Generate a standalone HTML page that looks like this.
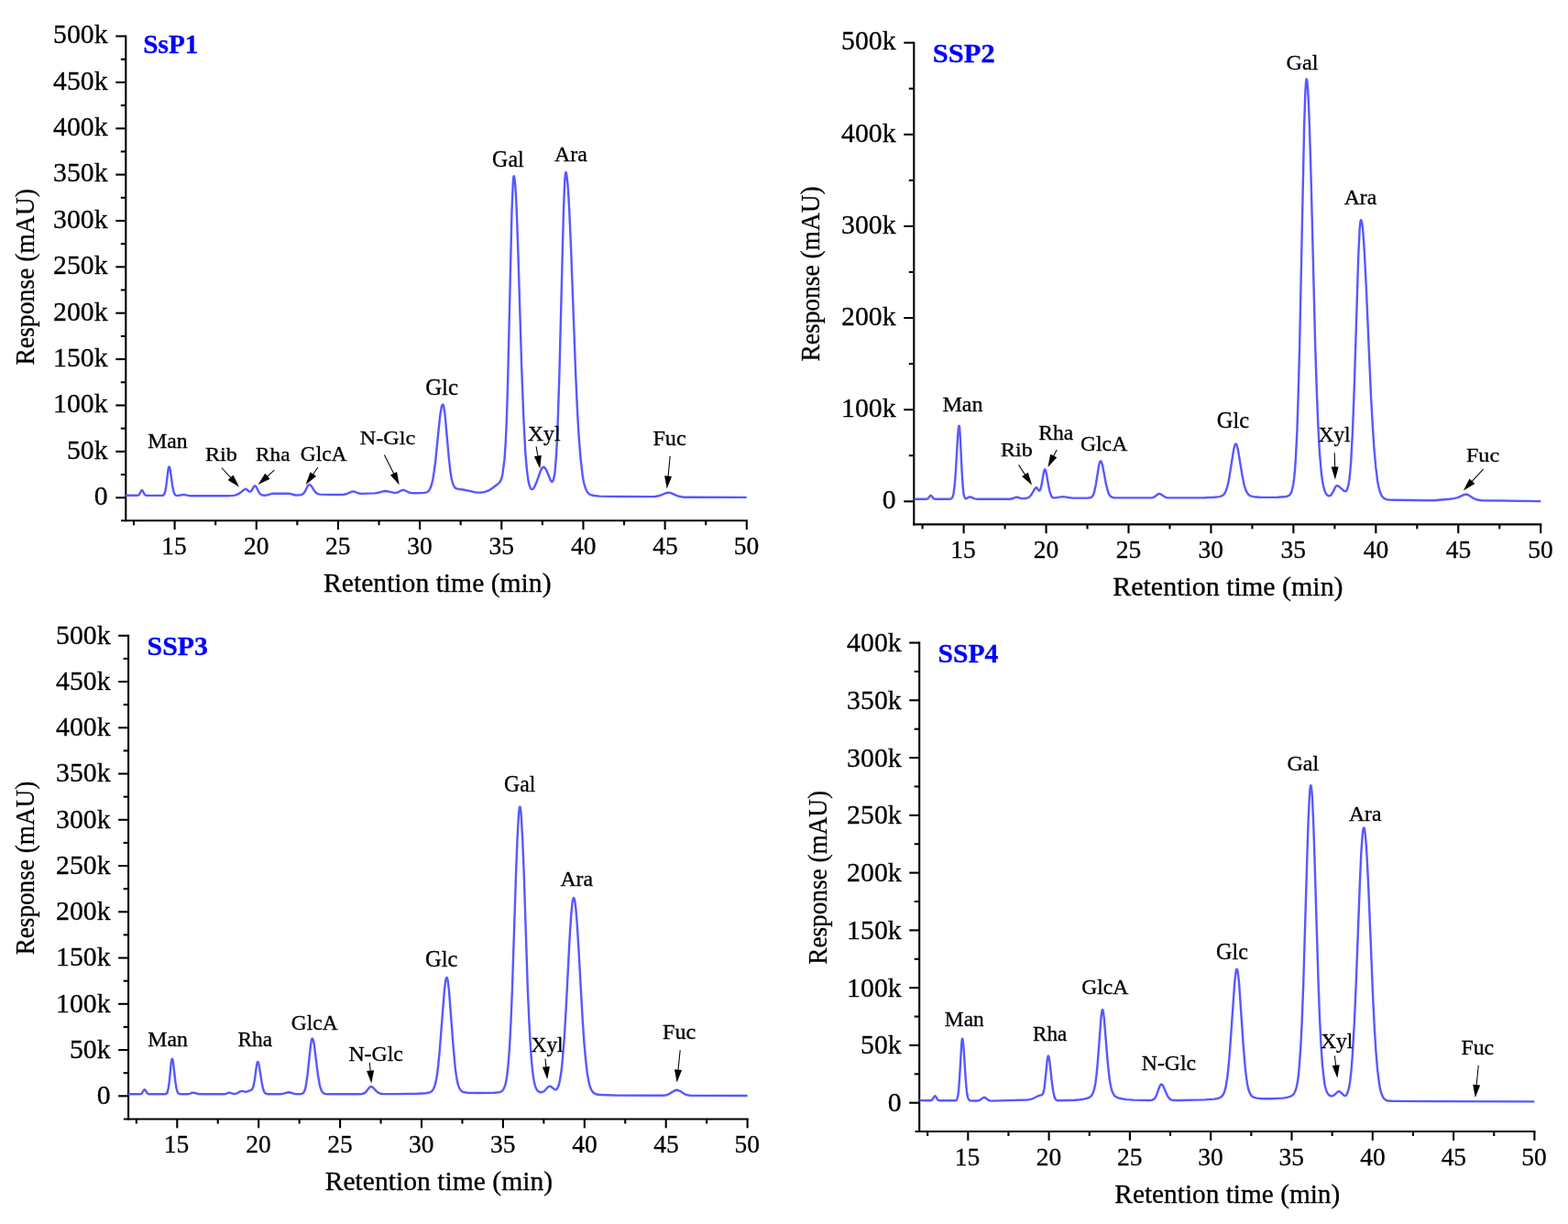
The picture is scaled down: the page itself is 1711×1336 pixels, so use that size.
<!DOCTYPE html><html><head><meta charset="utf-8"><title>Chromatograms</title><style>html,body{margin:0;padding:0;background:#fff;overflow:hidden}svg{display:block}</style></head><body><svg width="1711" height="1336" viewBox="0 0 1711 1336" font-family="'Liberation Serif','Times New Roman',serif"><rect width="1711" height="1336" fill="#fff"/><g><line x1="137.3" y1="38.45" x2="137.3" y2="569.35" stroke="#000" stroke-width="2.1"/><line x1="132.0" y1="568.3" x2="815.84" y2="568.3" stroke="#000" stroke-width="2.1"/><line x1="126.30" y1="543.20" x2="137.3" y2="543.20" stroke="#000" stroke-width="2.1"/><text x="102.70" y="551.00" font-size="29.8" stroke="#000" stroke-width="0.3" textLength="14.90" lengthAdjust="spacingAndGlyphs">0</text><line x1="131.80" y1="518.02" x2="137.3" y2="518.02" stroke="#000" stroke-width="2.1"/><line x1="126.30" y1="492.83" x2="137.3" y2="492.83" stroke="#000" stroke-width="2.1"/><text x="72.90" y="500.63" font-size="29.8" stroke="#000" stroke-width="0.3" textLength="44.70" lengthAdjust="spacingAndGlyphs">50k</text><line x1="131.80" y1="467.65" x2="137.3" y2="467.65" stroke="#000" stroke-width="2.1"/><line x1="126.30" y1="442.46" x2="137.3" y2="442.46" stroke="#000" stroke-width="2.1"/><text x="58.00" y="450.26" font-size="29.8" stroke="#000" stroke-width="0.3" textLength="59.60" lengthAdjust="spacingAndGlyphs">100k</text><line x1="131.80" y1="417.28" x2="137.3" y2="417.28" stroke="#000" stroke-width="2.1"/><line x1="126.30" y1="392.09" x2="137.3" y2="392.09" stroke="#000" stroke-width="2.1"/><text x="58.00" y="399.89" font-size="29.8" stroke="#000" stroke-width="0.3" textLength="59.60" lengthAdjust="spacingAndGlyphs">150k</text><line x1="131.80" y1="366.91" x2="137.3" y2="366.91" stroke="#000" stroke-width="2.1"/><line x1="126.30" y1="341.72" x2="137.3" y2="341.72" stroke="#000" stroke-width="2.1"/><text x="58.00" y="349.52" font-size="29.8" stroke="#000" stroke-width="0.3" textLength="59.60" lengthAdjust="spacingAndGlyphs">200k</text><line x1="131.80" y1="316.54" x2="137.3" y2="316.54" stroke="#000" stroke-width="2.1"/><line x1="126.30" y1="291.35" x2="137.3" y2="291.35" stroke="#000" stroke-width="2.1"/><text x="58.00" y="299.15" font-size="29.8" stroke="#000" stroke-width="0.3" textLength="59.60" lengthAdjust="spacingAndGlyphs">250k</text><line x1="131.80" y1="266.17" x2="137.3" y2="266.17" stroke="#000" stroke-width="2.1"/><line x1="126.30" y1="240.98" x2="137.3" y2="240.98" stroke="#000" stroke-width="2.1"/><text x="58.00" y="248.78" font-size="29.8" stroke="#000" stroke-width="0.3" textLength="59.60" lengthAdjust="spacingAndGlyphs">300k</text><line x1="131.80" y1="215.80" x2="137.3" y2="215.80" stroke="#000" stroke-width="2.1"/><line x1="126.30" y1="190.61" x2="137.3" y2="190.61" stroke="#000" stroke-width="2.1"/><text x="58.00" y="198.41" font-size="29.8" stroke="#000" stroke-width="0.3" textLength="59.60" lengthAdjust="spacingAndGlyphs">350k</text><line x1="131.80" y1="165.43" x2="137.3" y2="165.43" stroke="#000" stroke-width="2.1"/><line x1="126.30" y1="140.24" x2="137.3" y2="140.24" stroke="#000" stroke-width="2.1"/><text x="58.00" y="148.04" font-size="29.8" stroke="#000" stroke-width="0.3" textLength="59.60" lengthAdjust="spacingAndGlyphs">400k</text><line x1="131.80" y1="115.06" x2="137.3" y2="115.06" stroke="#000" stroke-width="2.1"/><line x1="126.30" y1="89.87" x2="137.3" y2="89.87" stroke="#000" stroke-width="2.1"/><text x="58.00" y="97.67" font-size="29.8" stroke="#000" stroke-width="0.3" textLength="59.60" lengthAdjust="spacingAndGlyphs">450k</text><line x1="131.80" y1="64.69" x2="137.3" y2="64.69" stroke="#000" stroke-width="2.1"/><line x1="126.30" y1="39.50" x2="137.3" y2="39.50" stroke="#000" stroke-width="2.1"/><text x="58.00" y="47.30" font-size="29.8" stroke="#000" stroke-width="0.3" textLength="59.60" lengthAdjust="spacingAndGlyphs">500k</text><line x1="146.01" y1="568.3" x2="146.01" y2="573.30" stroke="#000" stroke-width="2.1"/><line x1="190.60" y1="568.3" x2="190.60" y2="578.10" stroke="#000" stroke-width="2.1"/><text x="176.19" y="605.10" font-size="27.2" stroke="#000" stroke-width="0.3" textLength="27.47" lengthAdjust="spacingAndGlyphs">15</text><line x1="235.19" y1="568.3" x2="235.19" y2="573.30" stroke="#000" stroke-width="2.1"/><line x1="279.77" y1="568.3" x2="279.77" y2="578.10" stroke="#000" stroke-width="2.1"/><text x="265.95" y="605.10" font-size="27.2" stroke="#000" stroke-width="0.3" textLength="27.47" lengthAdjust="spacingAndGlyphs">20</text><line x1="324.36" y1="568.3" x2="324.36" y2="573.30" stroke="#000" stroke-width="2.1"/><line x1="368.94" y1="568.3" x2="368.94" y2="578.10" stroke="#000" stroke-width="2.1"/><text x="355.14" y="605.10" font-size="27.2" stroke="#000" stroke-width="0.3" textLength="27.47" lengthAdjust="spacingAndGlyphs">25</text><line x1="413.52" y1="568.3" x2="413.52" y2="573.30" stroke="#000" stroke-width="2.1"/><line x1="458.11" y1="568.3" x2="458.11" y2="578.10" stroke="#000" stroke-width="2.1"/><text x="444.24" y="605.10" font-size="27.2" stroke="#000" stroke-width="0.3" textLength="27.47" lengthAdjust="spacingAndGlyphs">30</text><line x1="502.69" y1="568.3" x2="502.69" y2="573.30" stroke="#000" stroke-width="2.1"/><line x1="547.28" y1="568.3" x2="547.28" y2="578.10" stroke="#000" stroke-width="2.1"/><text x="533.42" y="605.10" font-size="27.2" stroke="#000" stroke-width="0.3" textLength="27.47" lengthAdjust="spacingAndGlyphs">35</text><line x1="591.87" y1="568.3" x2="591.87" y2="573.30" stroke="#000" stroke-width="2.1"/><line x1="636.45" y1="568.3" x2="636.45" y2="578.10" stroke="#000" stroke-width="2.1"/><text x="622.97" y="605.10" font-size="27.2" stroke="#000" stroke-width="0.3" textLength="27.47" lengthAdjust="spacingAndGlyphs">40</text><line x1="681.03" y1="568.3" x2="681.03" y2="573.30" stroke="#000" stroke-width="2.1"/><line x1="725.62" y1="568.3" x2="725.62" y2="578.10" stroke="#000" stroke-width="2.1"/><text x="712.15" y="605.10" font-size="27.2" stroke="#000" stroke-width="0.3" textLength="27.47" lengthAdjust="spacingAndGlyphs">45</text><line x1="770.21" y1="568.3" x2="770.21" y2="573.30" stroke="#000" stroke-width="2.1"/><line x1="814.79" y1="568.3" x2="814.79" y2="578.10" stroke="#000" stroke-width="2.1"/><text x="800.78" y="605.10" font-size="27.2" stroke="#000" stroke-width="0.3" textLength="27.47" lengthAdjust="spacingAndGlyphs">50</text><path d="M137.1,540.7 149.0,540.7 150.7,540.6 151.5,540.2 152.1,539.6 154.1,535.7 154.6,535.2 154.9,535.0 155.3,535.2 155.7,535.7 157.8,539.6 158.5,540.3 159.3,540.7 161.1,540.8 175.9,540.9 177.4,540.8 178.3,540.5 179.0,539.7 179.5,538.8 180.5,535.3 181.4,529.7 183.5,512.8 184.0,510.2 184.3,509.6 184.5,509.4 185.2,510.5 185.8,513.3 188.1,529.9 189.4,536.3 190.1,538.4 190.9,539.8 191.8,540.6 193.1,540.9 195.5,540.8 200.3,539.9 201.7,540.1 205.4,540.9 208.4,541.2 248.6,541.2 254.6,540.9 257.3,540.4 259.7,539.4 261.8,538.1 266.0,534.8 268.0,533.8 268.5,533.8 269.1,534.1 271.7,536.4 272.5,536.6 273.3,536.5 274.1,535.9 274.8,535.1 277.2,530.9 278.1,530.3 278.8,530.6 279.6,531.5 282.3,536.8 283.4,538.6 284.8,539.8 286.4,540.5 290.5,540.7 297.6,538.7 315.4,538.7 322.6,540.5 327.0,540.3 329.6,539.8 331.4,538.5 332.9,536.3 335.9,530.3 336.7,529.3 337.6,529.0 338.5,529.3 339.5,530.2 343.1,535.8 344.9,537.9 346.8,539.1 349.3,539.6 368.9,540.0 375.2,539.7 378.6,539.0 383.2,536.8 385.1,536.4 386.9,536.7 391.3,538.5 394.4,538.9 409.2,538.4 412.5,537.8 418.1,536.3 420.4,536.0 423.2,536.3 429.2,537.7 431.7,537.9 434.0,537.4 438.1,535.3 439.9,534.8 441.7,535.2 446.1,537.5 448.7,538.1 452.0,538.2 460.0,538.1 462.8,537.9 464.8,537.6 466.2,537.0 467.4,536.1 468.4,535.0 469.3,533.5 470.9,529.3 472.4,522.8 473.7,514.7 475.1,504.1 479.1,464.1 480.4,452.5 481.8,444.2 482.5,442.1 483.2,441.5 483.7,442.1 484.3,444.3 485.6,452.9 489.7,498.6 491.5,515.2 492.5,521.3 493.5,525.8 494.6,529.1 495.7,531.3 497.2,532.8 499.1,533.6 505.7,534.5 517.9,537.2 521.6,537.6 525.2,537.6 529.3,536.9 533.2,535.4 537.0,533.0 543.3,528.3 545.1,526.5 546.4,524.5 547.5,521.5 548.4,517.7 550.5,501.4 551.8,482.5 552.9,457.3 554.1,418.8 558.5,230.3 559.7,201.2 560.2,194.4 560.5,192.7 560.7,192.2 561.1,192.8 561.5,194.6 562.3,202.5 563.1,215.6 564.0,235.5 565.5,279.1 569.2,401.3 571.4,457.6 573.3,493.7 574.4,507.5 575.5,517.6 576.5,524.8 577.6,529.5 578.8,532.7 579.5,533.6 580.2,534.0 580.9,534.0 581.7,533.5 582.5,532.6 583.4,531.1 585.3,526.8 589.9,513.9 591.4,511.1 592.1,510.3 592.8,509.9 593.4,509.8 594.0,510.1 595.3,511.6 596.8,514.4 600.7,524.1 601.9,525.7 602.4,525.9 602.8,525.7 603.6,524.5 604.4,521.7 605.2,517.6 605.9,511.5 607.1,495.2 608.3,472.3 610.4,408.0 615.0,228.6 616.2,198.3 616.8,190.5 617.1,188.8 617.5,188.1 617.9,188.9 618.3,190.8 619.3,199.1 620.3,212.6 621.3,230.6 623.1,272.1 628.2,409.2 629.9,446.1 631.6,475.7 633.5,500.0 635.5,517.2 636.5,523.8 637.7,529.0 638.9,533.1 640.3,536.1 641.2,537.4 642.2,538.6 643.4,539.5 644.7,540.2 648.1,541.0 654.3,541.6 678.2,542.0 713.3,542.1 716.1,541.8 718.6,541.3 721.0,540.5 726.3,538.3 727.9,537.9 729.5,537.8 731.0,537.9 732.7,538.4 738.3,540.9 740.9,541.8 743.5,542.3 746.8,542.7 753.1,542.8 814.8,542.9" fill="none" stroke="#5858ff" stroke-width="2.4" stroke-linejoin="round"/><text x="156.34" y="57.50" font-size="29.2" font-weight="bold" fill="#0000ff" stroke="#0000ff" stroke-width="0.3" textLength="60.17" lengthAdjust="spacingAndGlyphs">SsP1</text><text transform="translate(37.20,397.80) rotate(-90)" x="-0.80" y="0" font-size="30.4" stroke="#000" stroke-width="0.3" textLength="192.51" lengthAdjust="spacingAndGlyphs">Response (mAU)</text><text x="353.05" y="645.70" font-size="28.5" fill="#000" stroke="#000" stroke-width="0.3" textLength="248.46" lengthAdjust="spacingAndGlyphs">Retention time (min)</text><text x="161.22" y="489.15" font-size="22.68" fill="#000" stroke="#000" stroke-width="0.3" textLength="43.44" lengthAdjust="spacingAndGlyphs">Man</text><text x="223.90" y="503.05" font-size="21.31" fill="#000" stroke="#000" stroke-width="0.3" textLength="35.13" lengthAdjust="spacingAndGlyphs">Rib</text><text x="279.13" y="502.75" font-size="20.85" fill="#000" stroke="#000" stroke-width="0.3" textLength="37.39" lengthAdjust="spacingAndGlyphs">Rha</text><text x="327.74" y="503.23" font-size="22.21" fill="#000" stroke="#000" stroke-width="0.3" textLength="50.83" lengthAdjust="spacingAndGlyphs">GlcA</text><text x="392.80" y="485.05" font-size="21.31" fill="#000" stroke="#000" stroke-width="0.3" textLength="60.44" lengthAdjust="spacingAndGlyphs">N-Glc</text><text x="464.18" y="431.23" font-size="24.77" fill="#000" stroke="#000" stroke-width="0.3" textLength="35.88" lengthAdjust="spacingAndGlyphs">Glc</text><text x="537.12" y="181.53" font-size="24.92" fill="#000" stroke="#000" stroke-width="0.3" textLength="34.56" lengthAdjust="spacingAndGlyphs">Gal</text><text x="605.07" y="176.25" font-size="23.51" fill="#000" stroke="#000" stroke-width="0.3" textLength="35.66" lengthAdjust="spacingAndGlyphs">Ara</text><text x="575.98" y="481.15" font-size="22.91" fill="#000" stroke="#000" stroke-width="0.3" textLength="35.60" lengthAdjust="spacingAndGlyphs">Xyl</text><text x="712.40" y="486.45" font-size="22.98" fill="#000" stroke="#000" stroke-width="0.3" textLength="36.24" lengthAdjust="spacingAndGlyphs">Fuc</text><line x1="241.8" y1="510.5" x2="252.9" y2="522.6" stroke="#000" stroke-width="1.05"/><polygon points="261.0,531.5 248.6,523.9 254.5,518.5" fill="#000"/><line x1="299.4" y1="513.2" x2="290.5" y2="521.1" stroke="#000" stroke-width="1.05"/><polygon points="281.5,529.0 289.3,516.7 294.6,522.7" fill="#000"/><line x1="347.0" y1="510.0" x2="340.6" y2="519.2" stroke="#000" stroke-width="1.05"/><polygon points="333.7,529.0 338.5,515.2 345.0,519.8" fill="#000"/><line x1="419.4" y1="496.4" x2="430.4" y2="518.5" stroke="#000" stroke-width="1.05"/><polygon points="435.7,529.2 425.9,518.4 433.1,514.9" fill="#000"/><line x1="585.1" y1="487.4" x2="587.2" y2="499.6" stroke="#000" stroke-width="1.05"/><polygon points="589.2,511.4 582.9,498.3 590.8,496.9" fill="#000"/><line x1="731.2" y1="497.9" x2="728.9" y2="521.7" stroke="#000" stroke-width="1.05"/><polygon points="727.7,533.6 725.1,519.3 733.0,520.1" fill="#000"/></g>
<g><line x1="997.3" y1="45.65" x2="997.3" y2="573.45" stroke="#000" stroke-width="2.1"/><line x1="996.3" y1="572.4" x2="1682.30" y2="572.4" stroke="#000" stroke-width="2.1"/><line x1="986.30" y1="547.30" x2="997.3" y2="547.30" stroke="#000" stroke-width="2.1"/><text x="962.70" y="555.10" font-size="29.8" stroke="#000" stroke-width="0.3" textLength="14.90" lengthAdjust="spacingAndGlyphs">0</text><line x1="991.80" y1="497.23" x2="997.3" y2="497.23" stroke="#000" stroke-width="2.1"/><line x1="986.30" y1="447.17" x2="997.3" y2="447.17" stroke="#000" stroke-width="2.1"/><text x="918.00" y="454.97" font-size="29.8" stroke="#000" stroke-width="0.3" textLength="59.60" lengthAdjust="spacingAndGlyphs">100k</text><line x1="991.80" y1="397.10" x2="997.3" y2="397.10" stroke="#000" stroke-width="2.1"/><line x1="986.30" y1="347.04" x2="997.3" y2="347.04" stroke="#000" stroke-width="2.1"/><text x="918.00" y="354.84" font-size="29.8" stroke="#000" stroke-width="0.3" textLength="59.60" lengthAdjust="spacingAndGlyphs">200k</text><line x1="991.80" y1="296.97" x2="997.3" y2="296.97" stroke="#000" stroke-width="2.1"/><line x1="986.30" y1="246.91" x2="997.3" y2="246.91" stroke="#000" stroke-width="2.1"/><text x="918.00" y="254.71" font-size="29.8" stroke="#000" stroke-width="0.3" textLength="59.60" lengthAdjust="spacingAndGlyphs">300k</text><line x1="991.80" y1="196.84" x2="997.3" y2="196.84" stroke="#000" stroke-width="2.1"/><line x1="986.30" y1="146.78" x2="997.3" y2="146.78" stroke="#000" stroke-width="2.1"/><text x="918.00" y="154.58" font-size="29.8" stroke="#000" stroke-width="0.3" textLength="59.60" lengthAdjust="spacingAndGlyphs">400k</text><line x1="991.80" y1="96.71" x2="997.3" y2="96.71" stroke="#000" stroke-width="2.1"/><line x1="986.30" y1="46.65" x2="997.3" y2="46.65" stroke="#000" stroke-width="2.1"/><text x="918.00" y="54.45" font-size="29.8" stroke="#000" stroke-width="0.3" textLength="59.60" lengthAdjust="spacingAndGlyphs">500k</text><line x1="1006.62" y1="572.4" x2="1006.62" y2="577.40" stroke="#000" stroke-width="2.1"/><line x1="1051.60" y1="572.4" x2="1051.60" y2="582.20" stroke="#000" stroke-width="2.1"/><text x="1037.19" y="608.60" font-size="27.2" stroke="#000" stroke-width="0.3" textLength="27.47" lengthAdjust="spacingAndGlyphs">15</text><line x1="1096.57" y1="572.4" x2="1096.57" y2="577.40" stroke="#000" stroke-width="2.1"/><line x1="1141.55" y1="572.4" x2="1141.55" y2="582.20" stroke="#000" stroke-width="2.1"/><text x="1127.73" y="608.60" font-size="27.2" stroke="#000" stroke-width="0.3" textLength="27.47" lengthAdjust="spacingAndGlyphs">20</text><line x1="1186.52" y1="572.4" x2="1186.52" y2="577.40" stroke="#000" stroke-width="2.1"/><line x1="1231.50" y1="572.4" x2="1231.50" y2="582.20" stroke="#000" stroke-width="2.1"/><text x="1217.70" y="608.60" font-size="27.2" stroke="#000" stroke-width="0.3" textLength="27.47" lengthAdjust="spacingAndGlyphs">25</text><line x1="1276.47" y1="572.4" x2="1276.47" y2="577.40" stroke="#000" stroke-width="2.1"/><line x1="1321.45" y1="572.4" x2="1321.45" y2="582.20" stroke="#000" stroke-width="2.1"/><text x="1307.58" y="608.60" font-size="27.2" stroke="#000" stroke-width="0.3" textLength="27.47" lengthAdjust="spacingAndGlyphs">30</text><line x1="1366.42" y1="572.4" x2="1366.42" y2="577.40" stroke="#000" stroke-width="2.1"/><line x1="1411.40" y1="572.4" x2="1411.40" y2="582.20" stroke="#000" stroke-width="2.1"/><text x="1397.54" y="608.60" font-size="27.2" stroke="#000" stroke-width="0.3" textLength="27.47" lengthAdjust="spacingAndGlyphs">35</text><line x1="1456.38" y1="572.4" x2="1456.38" y2="577.40" stroke="#000" stroke-width="2.1"/><line x1="1501.35" y1="572.4" x2="1501.35" y2="582.20" stroke="#000" stroke-width="2.1"/><text x="1487.87" y="608.60" font-size="27.2" stroke="#000" stroke-width="0.3" textLength="27.47" lengthAdjust="spacingAndGlyphs">40</text><line x1="1546.32" y1="572.4" x2="1546.32" y2="577.40" stroke="#000" stroke-width="2.1"/><line x1="1591.30" y1="572.4" x2="1591.30" y2="582.20" stroke="#000" stroke-width="2.1"/><text x="1577.83" y="608.60" font-size="27.2" stroke="#000" stroke-width="0.3" textLength="27.47" lengthAdjust="spacingAndGlyphs">45</text><line x1="1636.27" y1="572.4" x2="1636.27" y2="577.40" stroke="#000" stroke-width="2.1"/><line x1="1681.25" y1="572.4" x2="1681.25" y2="582.20" stroke="#000" stroke-width="2.1"/><text x="1667.24" y="608.60" font-size="27.2" stroke="#000" stroke-width="0.3" textLength="27.47" lengthAdjust="spacingAndGlyphs">50</text><path d="M997.6,544.8 1011.4,544.7 1012.7,544.0 1014.8,541.3 1015.6,540.8 1016.4,541.3 1018.6,544.0 1019.3,544.5 1020.3,544.7 1036.4,544.7 1038.0,544.3 1039.1,543.2 1039.9,541.3 1040.5,538.7 1041.8,528.9 1042.9,514.5 1045.2,474.8 1045.9,467.1 1046.3,465.2 1046.6,464.7 1046.8,465.2 1047.1,466.9 1047.6,473.5 1049.7,516.3 1050.8,532.5 1051.4,538.0 1052.0,541.4 1052.8,543.3 1053.2,543.9 1053.8,544.2 1054.8,544.0 1057.2,542.6 1058.3,542.3 1059.6,542.6 1063.4,544.4 1066.9,544.8 1101.9,544.7 1104.6,544.3 1107.9,542.9 1109.3,542.6 1110.4,542.7 1113.4,543.8 1115.3,544.1 1118.9,544.0 1121.5,543.4 1123.1,542.5 1124.6,541.0 1126.0,539.0 1128.9,533.9 1130.4,532.2 1130.8,532.1 1131.4,532.4 1133.1,534.9 1133.7,535.5 1134.4,535.5 1135.0,534.9 1135.7,533.0 1136.4,530.1 1139.0,515.0 1139.6,513.1 1140.1,512.3 1140.5,512.5 1140.9,513.4 1141.7,516.2 1144.5,532.1 1145.8,537.7 1147.1,541.2 1147.8,542.3 1148.7,543.0 1149.8,543.4 1151.4,543.4 1157.5,542.4 1159.7,542.2 1161.9,542.4 1167.3,543.3 1170.6,543.6 1186.3,543.6 1189.7,543.3 1191.1,542.6 1192.2,541.4 1193.2,539.6 1194.1,536.9 1195.8,529.0 1199.1,508.0 1200.0,504.5 1200.5,503.6 1200.9,503.3 1201.5,503.6 1202.0,504.5 1203.1,508.0 1207.0,528.7 1208.9,536.3 1210.0,539.1 1211.1,540.9 1212.3,542.2 1214.0,543.0 1215.8,543.3 1218.8,543.4 1256.0,543.4 1257.7,543.1 1259.1,542.6 1260.5,541.8 1263.3,539.5 1265.0,539.0 1265.9,539.1 1266.8,539.5 1270.1,541.8 1271.6,542.7 1273.3,543.2 1275.6,543.4 1314.4,543.2 1324.9,542.8 1330.7,542.1 1333.5,541.2 1334.6,540.5 1335.6,539.5 1337.3,536.8 1338.8,532.7 1340.1,527.9 1341.4,521.1 1346.2,490.7 1347.4,486.0 1347.9,484.9 1348.4,484.5 1349.0,484.8 1349.6,486.0 1350.9,490.8 1355.5,518.7 1357.6,529.1 1358.7,532.9 1359.9,536.0 1361.1,538.3 1362.5,539.9 1363.5,540.8 1364.8,541.4 1368.1,542.2 1374.4,542.7 1383.5,542.9 1394.2,542.8 1401.5,542.3 1405.2,541.5 1406.5,540.8 1407.4,540.0 1408.9,537.8 1410.1,534.1 1411.2,528.9 1412.1,522.4 1413.0,513.1 1413.8,501.8 1415.4,470.8 1416.7,430.9 1418.1,378.7 1423.1,139.0 1424.4,99.4 1425.1,89.7 1425.4,87.0 1425.7,86.3 1426.1,86.9 1426.4,88.9 1427.2,98.2 1428.0,113.8 1428.9,137.6 1430.6,193.5 1435.1,374.4 1436.8,425.9 1438.3,463.9 1440.0,494.7 1441.9,516.6 1442.9,524.2 1444.0,530.2 1445.2,535.0 1446.6,538.1 1447.7,539.8 1449.1,541.0 1450.4,541.3 1451.8,540.9 1452.8,539.9 1453.8,538.4 1457.2,531.4 1457.9,530.5 1458.6,530.1 1460.0,530.4 1461.5,531.3 1466.7,535.9 1467.7,536.2 1468.6,536.1 1469.7,534.8 1470.7,532.3 1471.6,528.4 1472.4,523.2 1473.3,514.9 1474.2,503.7 1475.9,472.4 1477.8,422.2 1482.3,278.1 1483.7,249.4 1484.4,242.1 1484.8,240.5 1485.1,240.1 1485.5,240.7 1486.0,242.2 1487.0,249.1 1487.9,260.4 1488.9,275.7 1490.8,313.2 1496.0,432.3 1497.8,464.4 1499.5,490.1 1501.3,510.2 1503.2,525.4 1504.3,531.1 1505.4,535.4 1506.6,538.8 1507.9,541.4 1509.4,543.2 1511.0,544.4 1513.0,545.1 1515.6,545.5 1522.6,545.7 1564.3,546.2 1581.4,544.7 1586.2,544.1 1590.8,543.1 1597.1,540.1 1598.5,539.7 1599.8,539.6 1601.1,539.8 1602.5,540.4 1607.8,543.8 1610.3,545.0 1613.2,545.8 1617.2,546.3 1681.3,547.1" fill="none" stroke="#5858ff" stroke-width="2.4" stroke-linejoin="round"/><text x="1017.88" y="67.60" font-size="29.2" font-weight="bold" fill="#0000ff" stroke="#0000ff" stroke-width="0.3" textLength="67.84" lengthAdjust="spacingAndGlyphs">SSP2</text><text transform="translate(893.60,393.70) rotate(-90)" x="-0.79" y="0" font-size="30.4" stroke="#000" stroke-width="0.3" textLength="191.09" lengthAdjust="spacingAndGlyphs">Response (mAU)</text><text x="1214.24" y="649.80" font-size="28.5" fill="#000" stroke="#000" stroke-width="0.3" textLength="251.38" lengthAdjust="spacingAndGlyphs">Retention time (min)</text><text x="1028.40" y="449.05" font-size="22.22" fill="#000" stroke="#000" stroke-width="0.3" textLength="44.26" lengthAdjust="spacingAndGlyphs">Man</text><text x="1091.90" y="498.05" font-size="21.0" fill="#000" stroke="#000" stroke-width="0.3" textLength="34.92" lengthAdjust="spacingAndGlyphs">Rib</text><text x="1133.32" y="480.35" font-size="22.68" fill="#000" stroke="#000" stroke-width="0.3" textLength="37.90" lengthAdjust="spacingAndGlyphs">Rha</text><text x="1178.93" y="491.63" font-size="23.72" fill="#000" stroke="#000" stroke-width="0.3" textLength="51.35" lengthAdjust="spacingAndGlyphs">GlcA</text><text x="1327.80" y="466.63" font-size="24.62" fill="#000" stroke="#000" stroke-width="0.3" textLength="35.36" lengthAdjust="spacingAndGlyphs">Glc</text><text x="1403.61" y="75.93" font-size="24.02" fill="#000" stroke="#000" stroke-width="0.3" textLength="34.98" lengthAdjust="spacingAndGlyphs">Gal</text><text x="1466.67" y="222.95" font-size="22.9" fill="#000" stroke="#000" stroke-width="0.3" textLength="35.56" lengthAdjust="spacingAndGlyphs">Ara</text><text x="1438.79" y="481.95" font-size="22.68" fill="#000" stroke="#000" stroke-width="0.3" textLength="34.77" lengthAdjust="spacingAndGlyphs">Xyl</text><text x="1599.90" y="503.95" font-size="21.92" fill="#000" stroke="#000" stroke-width="0.3" textLength="36.24" lengthAdjust="spacingAndGlyphs">Fuc</text><line x1="1111.6" y1="507.4" x2="1119.5" y2="519.6" stroke="#000" stroke-width="1.05"/><polygon points="1126.1,529.6 1115.1,520.1 1121.8,515.7" fill="#000"/><line x1="1153.1" y1="491.0" x2="1148.9" y2="499.3" stroke="#000" stroke-width="1.05"/><polygon points="1143.4,510.0 1146.2,495.7 1153.3,499.3" fill="#000"/><line x1="1456.2" y1="494.3" x2="1456.7" y2="511.5" stroke="#000" stroke-width="1.05"/><polygon points="1457.0,523.5 1452.6,509.6 1460.6,509.4" fill="#000"/><line x1="1618.6" y1="512.2" x2="1605.0" y2="526.7" stroke="#000" stroke-width="1.05"/><polygon points="1596.8,535.4 1603.5,522.5 1609.3,527.9" fill="#000"/></g>
<g><line x1="140.1" y1="692.75" x2="140.1" y2="1222.55" stroke="#000" stroke-width="2.1"/><line x1="134.9" y1="1221.5" x2="816.65" y2="1221.5" stroke="#000" stroke-width="2.1"/><line x1="129.10" y1="1196.30" x2="140.1" y2="1196.30" stroke="#000" stroke-width="2.1"/><text x="105.70" y="1205.00" font-size="29.8" stroke="#000" stroke-width="0.3" textLength="14.90" lengthAdjust="spacingAndGlyphs">0</text><line x1="134.60" y1="1171.17" x2="140.1" y2="1171.17" stroke="#000" stroke-width="2.1"/><line x1="129.10" y1="1146.05" x2="140.1" y2="1146.05" stroke="#000" stroke-width="2.1"/><text x="75.90" y="1154.75" font-size="29.8" stroke="#000" stroke-width="0.3" textLength="44.70" lengthAdjust="spacingAndGlyphs">50k</text><line x1="134.60" y1="1120.92" x2="140.1" y2="1120.92" stroke="#000" stroke-width="2.1"/><line x1="129.10" y1="1095.80" x2="140.1" y2="1095.80" stroke="#000" stroke-width="2.1"/><text x="61.00" y="1104.50" font-size="29.8" stroke="#000" stroke-width="0.3" textLength="59.60" lengthAdjust="spacingAndGlyphs">100k</text><line x1="134.60" y1="1070.67" x2="140.1" y2="1070.67" stroke="#000" stroke-width="2.1"/><line x1="129.10" y1="1045.55" x2="140.1" y2="1045.55" stroke="#000" stroke-width="2.1"/><text x="61.00" y="1054.25" font-size="29.8" stroke="#000" stroke-width="0.3" textLength="59.60" lengthAdjust="spacingAndGlyphs">150k</text><line x1="134.60" y1="1020.42" x2="140.1" y2="1020.42" stroke="#000" stroke-width="2.1"/><line x1="129.10" y1="995.30" x2="140.1" y2="995.30" stroke="#000" stroke-width="2.1"/><text x="61.00" y="1004.00" font-size="29.8" stroke="#000" stroke-width="0.3" textLength="59.60" lengthAdjust="spacingAndGlyphs">200k</text><line x1="134.60" y1="970.17" x2="140.1" y2="970.17" stroke="#000" stroke-width="2.1"/><line x1="129.10" y1="945.05" x2="140.1" y2="945.05" stroke="#000" stroke-width="2.1"/><text x="61.00" y="953.75" font-size="29.8" stroke="#000" stroke-width="0.3" textLength="59.60" lengthAdjust="spacingAndGlyphs">250k</text><line x1="134.60" y1="919.92" x2="140.1" y2="919.92" stroke="#000" stroke-width="2.1"/><line x1="129.10" y1="894.80" x2="140.1" y2="894.80" stroke="#000" stroke-width="2.1"/><text x="61.00" y="903.50" font-size="29.8" stroke="#000" stroke-width="0.3" textLength="59.60" lengthAdjust="spacingAndGlyphs">300k</text><line x1="134.60" y1="869.67" x2="140.1" y2="869.67" stroke="#000" stroke-width="2.1"/><line x1="129.10" y1="844.55" x2="140.1" y2="844.55" stroke="#000" stroke-width="2.1"/><text x="61.00" y="853.25" font-size="29.8" stroke="#000" stroke-width="0.3" textLength="59.60" lengthAdjust="spacingAndGlyphs">350k</text><line x1="134.60" y1="819.42" x2="140.1" y2="819.42" stroke="#000" stroke-width="2.1"/><line x1="129.10" y1="794.30" x2="140.1" y2="794.30" stroke="#000" stroke-width="2.1"/><text x="61.00" y="803.00" font-size="29.8" stroke="#000" stroke-width="0.3" textLength="59.60" lengthAdjust="spacingAndGlyphs">400k</text><line x1="134.60" y1="769.17" x2="140.1" y2="769.17" stroke="#000" stroke-width="2.1"/><line x1="129.10" y1="744.05" x2="140.1" y2="744.05" stroke="#000" stroke-width="2.1"/><text x="61.00" y="752.75" font-size="29.8" stroke="#000" stroke-width="0.3" textLength="59.60" lengthAdjust="spacingAndGlyphs">450k</text><line x1="134.60" y1="718.92" x2="140.1" y2="718.92" stroke="#000" stroke-width="2.1"/><line x1="129.10" y1="693.80" x2="140.1" y2="693.80" stroke="#000" stroke-width="2.1"/><text x="61.00" y="702.50" font-size="29.8" stroke="#000" stroke-width="0.3" textLength="59.60" lengthAdjust="spacingAndGlyphs">500k</text><line x1="148.85" y1="1221.5" x2="148.85" y2="1226.50" stroke="#000" stroke-width="2.1"/><line x1="193.30" y1="1221.5" x2="193.30" y2="1231.30" stroke="#000" stroke-width="2.1"/><text x="178.89" y="1257.70" font-size="27.2" stroke="#000" stroke-width="0.3" textLength="27.47" lengthAdjust="spacingAndGlyphs">15</text><line x1="237.75" y1="1221.5" x2="237.75" y2="1226.50" stroke="#000" stroke-width="2.1"/><line x1="282.20" y1="1221.5" x2="282.20" y2="1231.30" stroke="#000" stroke-width="2.1"/><text x="268.38" y="1257.70" font-size="27.2" stroke="#000" stroke-width="0.3" textLength="27.47" lengthAdjust="spacingAndGlyphs">20</text><line x1="326.65" y1="1221.5" x2="326.65" y2="1226.50" stroke="#000" stroke-width="2.1"/><line x1="371.10" y1="1221.5" x2="371.10" y2="1231.30" stroke="#000" stroke-width="2.1"/><text x="357.30" y="1257.70" font-size="27.2" stroke="#000" stroke-width="0.3" textLength="27.47" lengthAdjust="spacingAndGlyphs">25</text><line x1="415.55" y1="1221.5" x2="415.55" y2="1226.50" stroke="#000" stroke-width="2.1"/><line x1="460.00" y1="1221.5" x2="460.00" y2="1231.30" stroke="#000" stroke-width="2.1"/><text x="446.13" y="1257.70" font-size="27.2" stroke="#000" stroke-width="0.3" textLength="27.47" lengthAdjust="spacingAndGlyphs">30</text><line x1="504.45" y1="1221.5" x2="504.45" y2="1226.50" stroke="#000" stroke-width="2.1"/><line x1="548.90" y1="1221.5" x2="548.90" y2="1231.30" stroke="#000" stroke-width="2.1"/><text x="535.04" y="1257.70" font-size="27.2" stroke="#000" stroke-width="0.3" textLength="27.47" lengthAdjust="spacingAndGlyphs">35</text><line x1="593.35" y1="1221.5" x2="593.35" y2="1226.50" stroke="#000" stroke-width="2.1"/><line x1="637.80" y1="1221.5" x2="637.80" y2="1231.30" stroke="#000" stroke-width="2.1"/><text x="624.32" y="1257.70" font-size="27.2" stroke="#000" stroke-width="0.3" textLength="27.47" lengthAdjust="spacingAndGlyphs">40</text><line x1="682.25" y1="1221.5" x2="682.25" y2="1226.50" stroke="#000" stroke-width="2.1"/><line x1="726.70" y1="1221.5" x2="726.70" y2="1231.30" stroke="#000" stroke-width="2.1"/><text x="713.23" y="1257.70" font-size="27.2" stroke="#000" stroke-width="0.3" textLength="27.47" lengthAdjust="spacingAndGlyphs">45</text><line x1="771.15" y1="1221.5" x2="771.15" y2="1226.50" stroke="#000" stroke-width="2.1"/><line x1="815.60" y1="1221.5" x2="815.60" y2="1231.30" stroke="#000" stroke-width="2.1"/><text x="801.59" y="1257.70" font-size="27.2" stroke="#000" stroke-width="0.3" textLength="27.47" lengthAdjust="spacingAndGlyphs">50</text><path d="M140.0,1194.3 151.8,1194.3 153.6,1194.1 154.3,1193.8 154.9,1193.2 156.9,1189.8 157.7,1189.3 158.5,1189.8 160.7,1193.3 161.4,1193.9 162.2,1194.2 179.3,1194.3 180.8,1194.1 181.7,1193.7 182.4,1192.8 182.9,1191.5 183.9,1187.1 184.8,1180.2 186.7,1160.3 187.3,1156.9 187.8,1155.7 188.1,1155.9 188.4,1156.8 189.0,1160.1 191.4,1181.0 192.6,1188.2 193.3,1190.9 194.0,1192.6 194.8,1193.5 195.9,1194.1 198.3,1194.3 204.9,1194.2 206.8,1193.8 209.9,1192.7 211.1,1192.6 212.4,1192.8 216.0,1194.0 218.8,1194.2 244.5,1194.2 246.6,1193.9 249.1,1192.9 250.3,1192.7 251.3,1192.9 254.0,1193.7 256.1,1193.9 258.8,1193.3 262.1,1191.4 263.3,1190.9 264.4,1190.9 267.1,1191.6 268.4,1191.7 269.9,1191.4 273.2,1190.2 274.4,1189.6 275.3,1188.6 276.0,1187.2 276.6,1185.2 277.8,1179.2 280.1,1162.5 280.7,1159.8 281.2,1159.0 281.6,1159.2 282.0,1160.1 282.8,1163.3 285.5,1180.7 286.7,1187.1 288.1,1191.3 288.8,1192.5 289.7,1193.4 290.9,1194.0 292.4,1194.2 305.5,1194.2 308.6,1193.9 313.1,1192.6 315.0,1192.3 316.6,1192.5 320.4,1193.7 322.6,1194.1 326.8,1194.2 329.3,1193.9 330.8,1193.0 332.0,1191.4 333.1,1188.5 333.9,1184.6 335.6,1172.9 339.0,1140.6 339.9,1135.4 340.3,1134.0 340.8,1133.6 341.3,1134.1 341.9,1135.5 342.9,1140.9 346.8,1172.2 348.7,1183.5 349.8,1187.7 350.8,1190.5 352.1,1192.4 353.6,1193.6 355.4,1194.1 358.4,1194.2 391.0,1194.2 395.1,1194.0 397.0,1193.5 398.5,1192.6 399.9,1191.1 403.1,1187.0 404.0,1186.3 404.9,1186.1 405.9,1186.3 407.0,1187.0 410.8,1191.1 412.6,1192.6 414.6,1193.5 416.9,1194.0 432.4,1194.1 455.1,1193.7 464.4,1193.2 467.1,1192.8 469.0,1192.3 470.4,1191.6 471.6,1190.6 472.7,1189.1 473.7,1187.1 474.6,1184.6 475.5,1181.1 477.0,1172.8 478.3,1162.2 479.7,1147.4 484.9,1081.1 486.2,1070.5 486.8,1067.9 487.5,1067.0 487.7,1067.2 488.1,1067.9 488.7,1070.6 490.0,1081.6 494.7,1143.2 496.7,1165.1 497.8,1173.4 498.8,1179.6 500.0,1184.4 501.3,1187.9 502.8,1190.1 504.5,1191.6 506.9,1192.3 510.5,1192.7 522.4,1193.0 539.5,1192.7 544.8,1192.2 546.4,1191.7 547.7,1191.0 549.2,1189.3 550.4,1186.9 551.6,1183.3 552.5,1178.7 553.5,1172.2 554.4,1164.2 556.0,1143.5 557.4,1117.2 558.9,1080.5 563.1,952.1 564.5,916.3 566.0,888.9 566.7,882.4 567.0,880.9 567.3,880.6 567.7,881.1 568.0,882.7 568.7,889.3 570.2,916.1 571.7,953.3 575.8,1078.5 577.3,1112.8 578.7,1139.7 580.2,1160.3 581.9,1175.2 582.9,1180.9 583.8,1184.8 585.0,1188.0 586.2,1190.1 587.4,1191.3 588.8,1192.0 590.3,1192.3 591.8,1192.0 592.9,1191.5 594.1,1190.7 598.2,1186.3 599.0,1185.8 599.8,1185.6 600.6,1185.7 601.5,1186.2 605.1,1189.1 606.0,1189.4 606.9,1189.3 608.0,1188.2 609.2,1185.8 610.2,1182.7 611.1,1178.2 612.4,1170.3 613.5,1160.3 615.8,1132.9 617.7,1100.1 621.5,1025.9 623.1,1000.4 624.6,984.8 625.4,981.1 625.7,980.2 626.1,980.0 626.4,980.4 626.9,981.6 627.8,986.6 628.6,994.7 629.5,1005.6 631.2,1032.1 635.8,1114.6 637.4,1137.9 639.0,1155.6 640.6,1170.2 642.4,1180.6 643.4,1184.6 644.5,1187.8 645.6,1190.3 646.9,1192.0 648.5,1193.4 650.3,1194.2 652.8,1194.7 656.6,1195.0 673.4,1195.6 722.0,1195.7 725.7,1195.5 728.6,1194.8 731.0,1193.6 735.9,1190.5 737.4,1190.0 738.7,1189.8 739.9,1190.0 741.4,1190.6 746.0,1193.5 748.1,1194.6 750.3,1195.3 753.0,1195.7 759.3,1195.9 815.6,1196.0" fill="none" stroke="#5858ff" stroke-width="2.4" stroke-linejoin="round"/><text x="160.61" y="714.80" font-size="29.2" font-weight="bold" fill="#0000ff" stroke="#0000ff" stroke-width="0.3" textLength="66.41" lengthAdjust="spacingAndGlyphs">SSP3</text><text transform="translate(37.20,1041.60) rotate(-90)" x="-0.78" y="0" font-size="30.4" stroke="#000" stroke-width="0.3" textLength="189.58" lengthAdjust="spacingAndGlyphs">Response (mAU)</text><text x="354.65" y="1299.00" font-size="28.5" fill="#000" stroke="#000" stroke-width="0.3" textLength="248.46" lengthAdjust="spacingAndGlyphs">Retention time (min)</text><text x="161.32" y="1141.55" font-size="22.68" fill="#000" stroke="#000" stroke-width="0.3" textLength="43.54" lengthAdjust="spacingAndGlyphs">Man</text><text x="259.43" y="1141.55" font-size="22.68" fill="#000" stroke="#000" stroke-width="0.3" textLength="37.59" lengthAdjust="spacingAndGlyphs">Rha</text><text x="317.84" y="1123.63" font-size="23.11" fill="#000" stroke="#000" stroke-width="0.3" textLength="50.83" lengthAdjust="spacingAndGlyphs">GlcA</text><text x="380.41" y="1158.05" font-size="22.68" fill="#000" stroke="#000" stroke-width="0.3" textLength="59.52" lengthAdjust="spacingAndGlyphs">N-Glc</text><text x="464.00" y="1054.53" font-size="24.77" fill="#000" stroke="#000" stroke-width="0.3" textLength="35.36" lengthAdjust="spacingAndGlyphs">Glc</text><text x="550.03" y="863.53" font-size="24.17" fill="#000" stroke="#000" stroke-width="0.3" textLength="34.25" lengthAdjust="spacingAndGlyphs">Gal</text><text x="611.47" y="967.45" font-size="23.36" fill="#000" stroke="#000" stroke-width="0.3" textLength="35.56" lengthAdjust="spacingAndGlyphs">Ara</text><text x="579.59" y="1148.35" font-size="23.14" fill="#000" stroke="#000" stroke-width="0.3" textLength="34.98" lengthAdjust="spacingAndGlyphs">Xyl</text><text x="723.10" y="1134.05" font-size="22.98" fill="#000" stroke="#000" stroke-width="0.3" textLength="36.24" lengthAdjust="spacingAndGlyphs">Fuc</text><line x1="403.3" y1="1159.6" x2="404.3" y2="1170.5" stroke="#000" stroke-width="1.05"/><polygon points="405.3,1182.5 400.1,1168.9 408.1,1168.2" fill="#000"/><line x1="595.0" y1="1155.6" x2="596.1" y2="1166.4" stroke="#000" stroke-width="1.05"/><polygon points="597.3,1178.3 591.9,1164.8 599.9,1164.0" fill="#000"/><line x1="742.2" y1="1146.1" x2="739.8" y2="1169.6" stroke="#000" stroke-width="1.05"/><polygon points="738.6,1181.5 736.0,1167.2 744.0,1168.0" fill="#000"/></g>
<g><line x1="1003.2" y1="700.55" x2="1003.2" y2="1236.05" stroke="#000" stroke-width="2.1"/><line x1="998.6" y1="1235.0" x2="1675.45" y2="1235.0" stroke="#000" stroke-width="2.1"/><line x1="992.20" y1="1203.70" x2="1003.2" y2="1203.70" stroke="#000" stroke-width="2.1"/><text x="968.80" y="1213.20" font-size="29.8" stroke="#000" stroke-width="0.3" textLength="14.90" lengthAdjust="spacingAndGlyphs">0</text><line x1="997.70" y1="1172.32" x2="1003.2" y2="1172.32" stroke="#000" stroke-width="2.1"/><line x1="992.20" y1="1140.93" x2="1003.2" y2="1140.93" stroke="#000" stroke-width="2.1"/><text x="939.00" y="1150.43" font-size="29.8" stroke="#000" stroke-width="0.3" textLength="44.70" lengthAdjust="spacingAndGlyphs">50k</text><line x1="997.70" y1="1109.55" x2="1003.2" y2="1109.55" stroke="#000" stroke-width="2.1"/><line x1="992.20" y1="1078.17" x2="1003.2" y2="1078.17" stroke="#000" stroke-width="2.1"/><text x="924.10" y="1087.67" font-size="29.8" stroke="#000" stroke-width="0.3" textLength="59.60" lengthAdjust="spacingAndGlyphs">100k</text><line x1="997.70" y1="1046.79" x2="1003.2" y2="1046.79" stroke="#000" stroke-width="2.1"/><line x1="992.20" y1="1015.40" x2="1003.2" y2="1015.40" stroke="#000" stroke-width="2.1"/><text x="924.10" y="1024.90" font-size="29.8" stroke="#000" stroke-width="0.3" textLength="59.60" lengthAdjust="spacingAndGlyphs">150k</text><line x1="997.70" y1="984.02" x2="1003.2" y2="984.02" stroke="#000" stroke-width="2.1"/><line x1="992.20" y1="952.64" x2="1003.2" y2="952.64" stroke="#000" stroke-width="2.1"/><text x="924.10" y="962.14" font-size="29.8" stroke="#000" stroke-width="0.3" textLength="59.60" lengthAdjust="spacingAndGlyphs">200k</text><line x1="997.70" y1="921.26" x2="1003.2" y2="921.26" stroke="#000" stroke-width="2.1"/><line x1="992.20" y1="889.88" x2="1003.2" y2="889.88" stroke="#000" stroke-width="2.1"/><text x="924.10" y="899.38" font-size="29.8" stroke="#000" stroke-width="0.3" textLength="59.60" lengthAdjust="spacingAndGlyphs">250k</text><line x1="997.70" y1="858.49" x2="1003.2" y2="858.49" stroke="#000" stroke-width="2.1"/><line x1="992.20" y1="827.11" x2="1003.2" y2="827.11" stroke="#000" stroke-width="2.1"/><text x="924.10" y="836.61" font-size="29.8" stroke="#000" stroke-width="0.3" textLength="59.60" lengthAdjust="spacingAndGlyphs">300k</text><line x1="997.70" y1="795.73" x2="1003.2" y2="795.73" stroke="#000" stroke-width="2.1"/><line x1="992.20" y1="764.35" x2="1003.2" y2="764.35" stroke="#000" stroke-width="2.1"/><text x="924.10" y="773.85" font-size="29.8" stroke="#000" stroke-width="0.3" textLength="59.60" lengthAdjust="spacingAndGlyphs">350k</text><line x1="997.70" y1="732.96" x2="1003.2" y2="732.96" stroke="#000" stroke-width="2.1"/><line x1="992.20" y1="701.58" x2="1003.2" y2="701.58" stroke="#000" stroke-width="2.1"/><text x="924.10" y="711.08" font-size="29.8" stroke="#000" stroke-width="0.3" textLength="59.60" lengthAdjust="spacingAndGlyphs">400k</text><line x1="1012.15" y1="1235.0" x2="1012.15" y2="1240.00" stroke="#000" stroke-width="2.1"/><line x1="1056.30" y1="1235.0" x2="1056.30" y2="1244.80" stroke="#000" stroke-width="2.1"/><text x="1041.89" y="1271.60" font-size="27.2" stroke="#000" stroke-width="0.3" textLength="27.47" lengthAdjust="spacingAndGlyphs">15</text><line x1="1100.45" y1="1235.0" x2="1100.45" y2="1240.00" stroke="#000" stroke-width="2.1"/><line x1="1144.60" y1="1235.0" x2="1144.60" y2="1244.80" stroke="#000" stroke-width="2.1"/><text x="1130.78" y="1271.60" font-size="27.2" stroke="#000" stroke-width="0.3" textLength="27.47" lengthAdjust="spacingAndGlyphs">20</text><line x1="1188.75" y1="1235.0" x2="1188.75" y2="1240.00" stroke="#000" stroke-width="2.1"/><line x1="1232.90" y1="1235.0" x2="1232.90" y2="1244.80" stroke="#000" stroke-width="2.1"/><text x="1219.10" y="1271.60" font-size="27.2" stroke="#000" stroke-width="0.3" textLength="27.47" lengthAdjust="spacingAndGlyphs">25</text><line x1="1277.05" y1="1235.0" x2="1277.05" y2="1240.00" stroke="#000" stroke-width="2.1"/><line x1="1321.20" y1="1235.0" x2="1321.20" y2="1244.80" stroke="#000" stroke-width="2.1"/><text x="1307.33" y="1271.60" font-size="27.2" stroke="#000" stroke-width="0.3" textLength="27.47" lengthAdjust="spacingAndGlyphs">30</text><line x1="1365.35" y1="1235.0" x2="1365.35" y2="1240.00" stroke="#000" stroke-width="2.1"/><line x1="1409.50" y1="1235.0" x2="1409.50" y2="1244.80" stroke="#000" stroke-width="2.1"/><text x="1395.64" y="1271.60" font-size="27.2" stroke="#000" stroke-width="0.3" textLength="27.47" lengthAdjust="spacingAndGlyphs">35</text><line x1="1453.65" y1="1235.0" x2="1453.65" y2="1240.00" stroke="#000" stroke-width="2.1"/><line x1="1497.80" y1="1235.0" x2="1497.80" y2="1244.80" stroke="#000" stroke-width="2.1"/><text x="1484.32" y="1271.60" font-size="27.2" stroke="#000" stroke-width="0.3" textLength="27.47" lengthAdjust="spacingAndGlyphs">40</text><line x1="1541.95" y1="1235.0" x2="1541.95" y2="1240.00" stroke="#000" stroke-width="2.1"/><line x1="1586.10" y1="1235.0" x2="1586.10" y2="1244.80" stroke="#000" stroke-width="2.1"/><text x="1572.63" y="1271.60" font-size="27.2" stroke="#000" stroke-width="0.3" textLength="27.47" lengthAdjust="spacingAndGlyphs">45</text><line x1="1630.25" y1="1235.0" x2="1630.25" y2="1240.00" stroke="#000" stroke-width="2.1"/><line x1="1674.40" y1="1235.0" x2="1674.40" y2="1244.80" stroke="#000" stroke-width="2.1"/><text x="1660.39" y="1271.60" font-size="27.2" stroke="#000" stroke-width="0.3" textLength="27.47" lengthAdjust="spacingAndGlyphs">50</text><path d="M1003.3,1201.1 1014.4,1201.2 1016.2,1201.0 1017.4,1200.2 1019.5,1196.8 1020.3,1196.2 1021.1,1196.8 1023.2,1200.3 1023.9,1200.9 1024.8,1201.2 1041.7,1201.3 1043.1,1201.1 1044.0,1200.3 1044.7,1198.6 1045.3,1196.3 1046.2,1188.5 1047.1,1176.2 1049.1,1141.4 1049.6,1135.6 1049.9,1134.2 1050.1,1133.7 1050.4,1134.2 1050.7,1136.0 1051.4,1142.0 1053.7,1177.4 1054.8,1190.4 1055.5,1195.3 1056.2,1198.3 1057.1,1200.2 1058.2,1201.1 1059.1,1201.4 1060.9,1201.5 1065.7,1201.5 1067.8,1201.3 1069.7,1200.5 1072.8,1198.1 1074.0,1197.8 1075.3,1198.2 1077.8,1200.2 1078.9,1200.9 1080.2,1201.4 1081.8,1201.6 1120.8,1200.5 1123.5,1200.1 1125.8,1199.6 1128.4,1198.5 1132.9,1196.2 1136.9,1195.1 1137.7,1194.3 1138.3,1193.1 1139.5,1188.2 1140.4,1180.5 1142.7,1157.7 1143.3,1153.8 1143.6,1152.7 1143.9,1152.5 1144.2,1153.0 1144.6,1154.0 1145.4,1158.5 1148.0,1182.6 1149.3,1191.5 1150.6,1197.2 1151.3,1199.0 1152.2,1200.2 1153.4,1201.0 1155.4,1201.2 1173.2,1200.7 1178.4,1200.3 1182.6,1199.7 1185.8,1198.9 1188.4,1198.0 1189.7,1197.2 1190.9,1196.1 1191.8,1194.8 1192.6,1193.3 1194.1,1188.7 1195.4,1182.2 1196.5,1173.3 1197.6,1162.2 1201.5,1110.6 1202.3,1104.2 1202.7,1102.5 1203.1,1102.1 1203.5,1102.8 1203.9,1104.7 1204.8,1111.7 1208.7,1159.2 1209.9,1170.7 1210.9,1179.0 1212.1,1186.1 1213.6,1191.2 1215.2,1194.6 1216.1,1195.8 1217.2,1196.8 1219.1,1197.9 1221.8,1198.8 1225.3,1199.5 1229.6,1200.1 1236.6,1200.6 1246.1,1200.9 1254.5,1201.0 1257.4,1200.6 1259.2,1199.7 1260.8,1197.7 1262.3,1194.4 1265.5,1185.5 1266.4,1184.0 1267.2,1183.5 1268.3,1184.1 1269.4,1185.6 1273.2,1194.5 1274.9,1197.7 1276.8,1199.7 1277.8,1200.3 1279.1,1200.7 1281.6,1201.0 1287.2,1201.0 1314.3,1200.4 1325.0,1199.6 1328.4,1199.0 1330.8,1198.3 1332.4,1197.4 1333.7,1196.2 1334.9,1194.5 1335.9,1192.3 1336.7,1189.6 1337.6,1186.0 1339.2,1176.5 1340.6,1164.0 1342.0,1147.5 1347.2,1072.9 1348.5,1061.1 1349.1,1058.4 1349.6,1057.7 1350.2,1058.5 1350.8,1061.3 1352.1,1073.3 1356.8,1142.2 1358.9,1167.0 1360.0,1176.1 1361.1,1183.4 1362.3,1189.0 1363.7,1192.8 1364.5,1194.4 1365.4,1195.8 1366.5,1196.8 1367.8,1197.6 1371.3,1198.6 1377.1,1199.2 1387.9,1199.3 1399.3,1198.6 1403.1,1198.1 1406.3,1197.4 1408.6,1196.5 1410.3,1195.5 1412.0,1193.7 1413.4,1191.0 1414.6,1187.1 1415.7,1181.9 1416.7,1175.3 1417.5,1167.1 1419.2,1144.5 1420.7,1114.6 1422.2,1074.8 1426.4,933.5 1427.7,893.9 1429.1,865.5 1429.7,859.2 1430.1,857.5 1430.3,857.2 1430.6,857.6 1431.0,859.3 1431.7,866.6 1433.1,895.1 1434.4,934.1 1438.5,1069.8 1439.9,1107.8 1441.3,1137.4 1442.9,1161.2 1444.6,1177.3 1445.5,1183.4 1446.6,1188.1 1447.7,1191.5 1449.1,1194.0 1450.1,1195.2 1451.3,1196.0 1452.5,1196.4 1453.7,1196.4 1455.7,1195.4 1459.5,1191.8 1460.4,1191.4 1461.2,1191.3 1462.0,1191.5 1462.8,1192.1 1466.5,1195.7 1467.5,1196.1 1468.5,1195.8 1469.2,1195.2 1469.8,1194.2 1471.0,1191.0 1472.2,1186.1 1473.3,1179.5 1474.5,1168.6 1475.6,1154.9 1477.8,1117.5 1479.8,1072.4 1483.8,965.6 1485.3,930.9 1486.8,910.7 1487.5,905.3 1487.8,903.9 1488.2,903.4 1488.6,903.9 1489.1,905.5 1489.9,912.0 1490.8,922.7 1491.8,938.6 1493.5,974.1 1498.3,1091.9 1499.9,1123.4 1501.4,1147.4 1503.1,1167.4 1504.9,1181.8 1505.8,1187.4 1506.9,1191.9 1508.0,1195.3 1509.3,1197.9 1510.9,1199.8 1512.7,1201.0 1515.1,1201.6 1518.8,1201.8 1566.9,1202.1 1674.4,1202.4" fill="none" stroke="#5858ff" stroke-width="2.4" stroke-linejoin="round"/><text x="1023.52" y="722.90" font-size="29.2" font-weight="bold" fill="#0000ff" stroke="#0000ff" stroke-width="0.3" textLength="65.83" lengthAdjust="spacingAndGlyphs">SSP4</text><text transform="translate(901.60,1052.00) rotate(-90)" x="-0.78" y="0" font-size="30.4" stroke="#000" stroke-width="0.3" textLength="189.88" lengthAdjust="spacingAndGlyphs">Response (mAU)</text><text x="1216.36" y="1313.20" font-size="28.5" fill="#000" stroke="#000" stroke-width="0.3" textLength="245.93" lengthAdjust="spacingAndGlyphs">Retention time (min)</text><text x="1030.83" y="1119.65" font-size="23.59" fill="#000" stroke="#000" stroke-width="0.3" textLength="42.93" lengthAdjust="spacingAndGlyphs">Man</text><text x="1127.14" y="1136.25" font-size="22.22" fill="#000" stroke="#000" stroke-width="0.3" textLength="37.08" lengthAdjust="spacingAndGlyphs">Rha</text><text x="1180.13" y="1084.83" font-size="23.26" fill="#000" stroke="#000" stroke-width="0.3" textLength="51.24" lengthAdjust="spacingAndGlyphs">GlcA</text><text x="1245.82" y="1167.65" font-size="22.37" fill="#000" stroke="#000" stroke-width="0.3" textLength="59.21" lengthAdjust="spacingAndGlyphs">N-Glc</text><text x="1327.11" y="1047.13" font-size="24.17" fill="#000" stroke="#000" stroke-width="0.3" textLength="34.83" lengthAdjust="spacingAndGlyphs">Glc</text><text x="1404.41" y="841.23" font-size="23.72" fill="#000" stroke="#000" stroke-width="0.3" textLength="34.77" lengthAdjust="spacingAndGlyphs">Gal</text><text x="1471.97" y="895.65" font-size="23.05" fill="#000" stroke="#000" stroke-width="0.3" textLength="35.45" lengthAdjust="spacingAndGlyphs">Ara</text><text x="1441.29" y="1143.55" font-size="22.37" fill="#000" stroke="#000" stroke-width="0.3" textLength="34.98" lengthAdjust="spacingAndGlyphs">Xyl</text><text x="1594.41" y="1150.55" font-size="23.14" fill="#000" stroke="#000" stroke-width="0.3" textLength="35.72" lengthAdjust="spacingAndGlyphs">Fuc</text><line x1="1456.4" y1="1152.4" x2="1457.9" y2="1164.8" stroke="#000" stroke-width="1.05"/><polygon points="1459.4,1176.7 1453.7,1163.3 1461.7,1162.3" fill="#000"/><line x1="1613.3" y1="1162.7" x2="1611.0" y2="1186.1" stroke="#000" stroke-width="1.05"/><polygon points="1609.8,1198.0 1607.2,1183.7 1615.2,1184.5" fill="#000"/></g></svg></body></html>
